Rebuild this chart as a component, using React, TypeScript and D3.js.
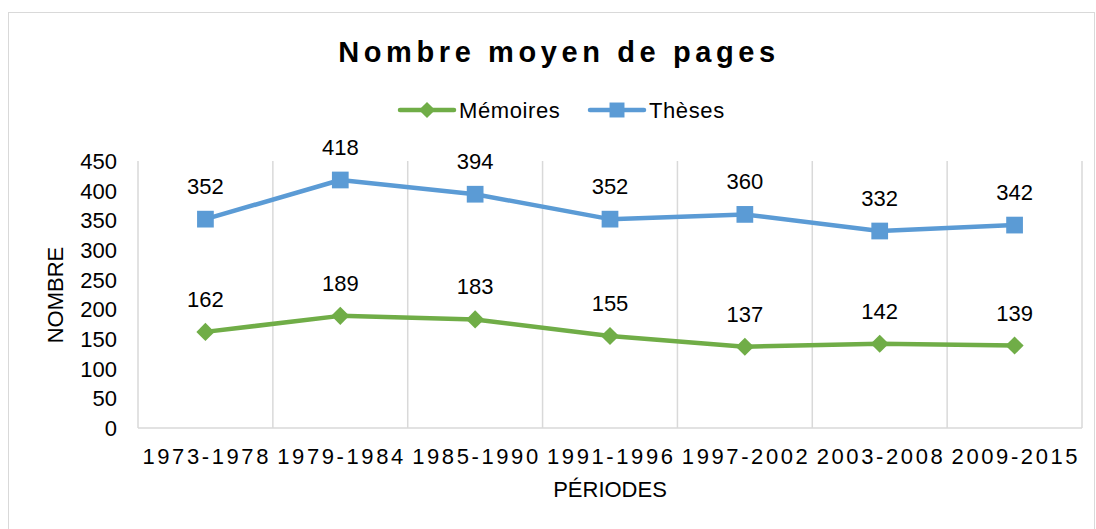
import * as d3 from "d3";
import {useEffect, useRef} from "react";

const WIDTH = 1096;
const HEIGHT = 529;
const MARGIN = {top: 161, right: 14, bottom: 101, left: 138};
const FONT = "'Liberation Sans', Arial, sans-serif";

// data
const periods = ["1973-1978", "1979-1984", "1985-1990", "1991-1996", "1997-2002", "2003-2008", "2009-2015"];
const memoires = [162, 189, 183, 155, 137, 142, 139];
const theses = [352, 418, 394, 352, 360, 332, 342];
const yTicks = [0, 50, 100, 150, 200, 250, 300, 350, 400, 450];

const GREEN = "#70ad47";
const BLUE = "#5b9bd5";

const App = () => {
    const ref = useRef<SVGSVGElement>(null);

    useEffect(() => {
        const svg = d3.select(ref.current);
        svg.selectAll("*").remove();

        const boundsWidth = WIDTH - MARGIN.left - MARGIN.right;
        const boundsHeight = HEIGHT - MARGIN.top - MARGIN.bottom;

        // outer chart border
        svg.append("rect")
            .attr("x", 8.5).attr("y", 12.5)
            .attr("width", 1086).attr("height", 520)
            .attr("fill", "white")
            .attr("stroke", "#d9d9d9");

        svg.append("text")
            .attr("x", 559).attr("y", 62)
            .attr("text-anchor", "middle")
            .style("font-family", FONT)
            .style("font-weight", "bold")
            .style("font-size", "29px")
            .style("letter-spacing", "4.6px")
            .text("Nombre moyen de pages");

        const g = svg.append("g")
            .attr("transform", `translate(${MARGIN.left},${MARGIN.top})`);

        const x = d3.scaleBand().domain(periods).range([0, boundsWidth]);
        const y = d3.scaleLinear().domain([0, 450]).range([boundsHeight, 0]);

        // vertical gridlines at category boundaries
        const bounds = periods.map(p => x(p)!).concat([boundsWidth]);
        g.selectAll(".vgrid")
            .data(bounds)
            .join("line")
            .attr("x1", d => d).attr("x2", d => d)
            .attr("y1", 0).attr("y2", boundsHeight)
            .attr("stroke", "#d9d9d9")
            .attr("stroke-width", 1.5);

        g.append("line")
            .attr("x1", 0).attr("x2", boundsWidth)
            .attr("y1", boundsHeight).attr("y2", boundsHeight)
            .attr("stroke", "#d9d9d9")
            .attr("stroke-width", 1.5);

        // y tick labels
        g.selectAll(".ytick")
            .data(yTicks)
            .join("text")
            .attr("x", -21)
            .attr("y", d => y(d))
            .attr("dy", "0.36em")
            .attr("text-anchor", "end")
            .style("font-family", FONT)
            .style("font-size", "22px")
            .text(d => d);

        // x tick labels
        g.selectAll(".xtick")
            .data(periods)
            .join("text")
            .attr("x", d => x(d)! + x.bandwidth() / 2 + 1.3)
            .attr("y", boundsHeight + 36)
            .attr("text-anchor", "middle")
            .style("font-family", FONT)
            .style("font-size", "22px")
            .style("letter-spacing", "2.6px")
            .text(d => d);

        svg.append("text")
            .attr("x", MARGIN.left + boundsWidth / 2)
            .attr("y", 497)
            .attr("text-anchor", "middle")
            .style("font-family", FONT)
            .style("font-size", "22px")
            .text("PÉRIODES");

        svg.append("text")
            .attr("transform", `translate(63,295) rotate(-90)`)
            .attr("text-anchor", "middle")
            .style("font-family", FONT)
            .style("font-size", "22px")
            .text("NOMBRE");

        const cx = (i: number) => x(periods[i])! + x.bandwidth() / 2;
        const line = d3.line<number>()
            .x((_, i) => cx(i))
            .y(d => y(d));

        const series = [
            {name: "Mémoires", values: memoires, color: GREEN, symbol: d3.symbolDiamond2, size: 210},
            {name: "Thèses", values: theses, color: BLUE, symbol: d3.symbolSquare, size: 280},
        ];

        series.forEach(s => {
            g.append("path")
                .datum(s.values)
                .attr("d", line)
                .attr("fill", "none")
                .attr("stroke", s.color)
                .attr("stroke-width", 4.5)
                .attr("stroke-linejoin", "round");

            const sym = d3.symbol().type(s.symbol).size(s.size);
            g.selectAll(null)
                .data(s.values)
                .join("path")
                .attr("d", sym)
                .attr("transform", (d, i) => `translate(${cx(i)},${y(d)})`)
                .attr("fill", s.color);

            g.selectAll(null)
                .data(s.values)
                .join("text")
                .attr("x", (_, i) => cx(i))
                .attr("y", d => y(d) - 25)
                .attr("text-anchor", "middle")
                .style("font-family", FONT)
                .style("font-size", "22px")
                .text(d => d);
        });

        // legend
        const legendItems = [
            {x: 400, ...series[0]},
            {x: 590, ...series[1]},
        ];
        legendItems.forEach(item => {
            const lg = svg.append("g").attr("transform", `translate(${item.x},110)`);
            lg.append("line")
                .attr("x1", 0).attr("x2", 54)
                .attr("stroke", item.color)
                .attr("stroke-width", 4.5)
                .attr("stroke-linecap", "round");
            lg.append("path")
                .attr("d", d3.symbol().type(item.symbol).size(item.size * 0.8)())
                .attr("transform", "translate(27,0)")
                .attr("fill", item.color);
            lg.append("text")
                .attr("x", 59).attr("y", 8)
                .style("font-family", FONT)
                .style("font-size", "22px")
                .style("letter-spacing", "0.6px")
                .text(item.name);
        });
    }, []);

    return (
        <svg ref={ref} width={WIDTH} height={HEIGHT}
             style={{position: "absolute", left: 0, top: 0}}/>
    );
};

export default App;
